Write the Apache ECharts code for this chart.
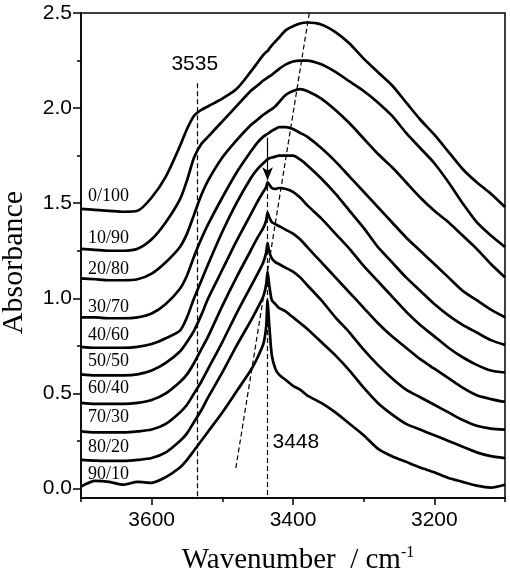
<!DOCTYPE html>
<html><head><meta charset="utf-8">
<script src="https://cdn.jsdelivr.net/npm/echarts@6/dist/echarts.min.js"></script>
<style>html,body{margin:0;padding:0;background:#fff}#c{width:510px;height:585px}</style>
</head><body><div id="c"></div>
<script>
// ---- data ----
const wavenumbers = [3700,3680,3660,3640,3620,3600,3580,3560,3550,3540,3530,3520,3500,3480,3460,3450,3442,3438,3436,3434,3430,3425,3420,3410,3400,3390,3380,3360,3340,3320,3300,3280,3260,3240,3220,3200,3180,3160,3140,3120,3100];
const seriesNames = ['0/100','10/90','20/80','30/70','40/60','50/50','60/40','70/30','80/20','90/10'];
const a0_100 = [1.47,1.465,1.46,1.455,1.46,1.53,1.64,1.80,1.89,1.96,1.99,2.01,2.05,2.10,2.19,2.24,2.28,2.295,2.30,2.31,2.33,2.35,2.37,2.41,2.43,2.445,2.45,2.44,2.40,2.34,2.26,2.19,2.12,2.03,1.94,1.86,1.77,1.68,1.61,1.55,1.48];
const a10_90 = [1.26,1.255,1.25,1.25,1.26,1.31,1.40,1.52,1.62,1.74,1.81,1.85,1.93,2.01,2.09,2.12,2.145,2.155,2.16,2.165,2.175,2.19,2.205,2.23,2.245,2.25,2.25,2.23,2.19,2.14,2.09,2.03,1.96,1.87,1.79,1.71,1.61,1.50,1.40,1.33,1.27];
const a20_80 = [1.105,1.10,1.095,1.095,1.10,1.13,1.19,1.27,1.34,1.44,1.54,1.62,1.74,1.83,1.91,1.94,1.965,1.975,1.98,1.985,1.995,2.01,2.03,2.07,2.09,2.10,2.09,2.05,1.99,1.92,1.84,1.76,1.69,1.61,1.53,1.46,1.40,1.33,1.26,1.18,1.11];
const a30_70 = [0.90,0.90,0.895,0.895,0.90,0.92,0.97,1.05,1.12,1.22,1.31,1.39,1.53,1.66,1.77,1.82,1.85,1.86,1.865,1.87,1.88,1.89,1.90,1.90,1.89,1.87,1.85,1.79,1.72,1.64,1.56,1.48,1.40,1.32,1.25,1.18,1.11,1.04,0.99,0.94,0.90];
const a40_60 = [0.745,0.74,0.74,0.74,0.745,0.76,0.79,0.83,0.90,1.00,1.09,1.18,1.35,1.50,1.63,1.68,1.71,1.725,1.73,1.735,1.74,1.745,1.75,1.75,1.75,1.73,1.70,1.63,1.55,1.46,1.37,1.27,1.19,1.11,1.04,0.97,0.91,0.86,0.82,0.78,0.755];
const a50_50 = [0.60,0.595,0.595,0.595,0.60,0.62,0.66,0.72,0.77,0.83,0.91,1.00,1.15,1.30,1.44,1.51,1.56,1.585,1.61,1.60,1.58,1.575,1.58,1.575,1.56,1.53,1.49,1.42,1.34,1.26,1.17,1.09,1.01,0.93,0.86,0.80,0.74,0.69,0.65,0.62,0.61];
const a60_40 = [0.45,0.445,0.445,0.445,0.45,0.465,0.50,0.56,0.60,0.66,0.73,0.80,0.96,1.11,1.25,1.32,1.37,1.41,1.45,1.43,1.40,1.39,1.38,1.36,1.34,1.31,1.27,1.19,1.11,1.03,0.95,0.87,0.80,0.74,0.68,0.63,0.58,0.53,0.49,0.47,0.455];
const a70_30 = [0.30,0.295,0.295,0.295,0.30,0.31,0.34,0.40,0.44,0.50,0.56,0.63,0.77,0.92,1.06,1.13,1.19,1.24,1.29,1.25,1.21,1.19,1.18,1.16,1.14,1.11,1.07,0.99,0.90,0.82,0.73,0.65,0.58,0.52,0.48,0.44,0.40,0.36,0.33,0.315,0.31];
const a80_20 = [0.15,0.147,0.145,0.145,0.15,0.16,0.19,0.25,0.29,0.35,0.41,0.48,0.61,0.75,0.88,0.95,1.01,1.07,1.14,1.08,0.99,0.97,0.95,0.93,0.90,0.87,0.84,0.77,0.70,0.62,0.53,0.45,0.39,0.34,0.31,0.28,0.25,0.22,0.19,0.17,0.16];
const a90_10 = [0.01,0.04,0.035,0.02,0.035,0.03,0.06,0.11,0.15,0.20,0.25,0.30,0.40,0.51,0.62,0.69,0.76,0.85,0.99,0.88,0.70,0.63,0.60,0.57,0.54,0.52,0.49,0.45,0.40,0.34,0.28,0.21,0.17,0.14,0.11,0.085,0.055,0.035,0.015,0.005,0.02];
const absorbance = [a0_100,a10_90,a20_80,a30_70,a40_60,a50_50,a60_40,a70_30,a80_20,a90_10];

const xTickValues = [3600,3400,3200];
const xMinorTickValues = [3700,3500,3300,3100];
const yTickValues = [0,0.5,1.0,1.5,2.0,2.5];
const yMinorTickValues = [0.25,0.75,1.25,1.75,2.25];

// annotation anchors (data coordinates)
const curveLabelX = 3690;
const curveLabelY = [1.534,1.313,1.155,0.955,0.808,0.671,0.526,0.376,0.218,0.076];
const legendTitle = ['PHB/PVPh', 3693, 1.808];
const peakLabels = [['3535', 3539, 2.229], ['3448', 3396, 0.245]];
const line3535 = [[3535, 2.13], [3535, -0.05]];
const line3448 = [[3436, 1.59], [3436, -0.05]];
const shiftLine = [[3377, 2.5], [3481, 0.105]];
const arrow3448 = [[3436, 1.845], [3436, 1.62]];

// ---- chart ----
const chart = echarts.init(document.getElementById('c'), null, {renderer: 'canvas'});
const sansFont = '"Liberation Sans", Arial, sans-serif';
const serifFont = '"Liberation Serif", "Times New Roman", serif';

const lineSeries = seriesNames.map((name, i) => ({
  name, type: 'line', xAxisIndex: 0, yAxisIndex: 0,
  data: wavenumbers.map((w, k) => [w, absorbance[i][k]]),
  showSymbol: false, symbol: 'none', smooth: 0.25,
  lineStyle: {color: '#000', width: 2.7}, silent: true, z: 3
}));

const dashed = {color: '#000', width: 1.2, type: [5, 3], opacity: 1};
lineSeries[0].markLine = {
  silent: true, symbol: ['none', 'none'], label: {show: false}, animation: false,
  lineStyle: dashed,
  data: [line3535, line3448, shiftLine].map(l => [{coord: l[0]}, {coord: l[1]}])
};
lineSeries[1].markLine = {
  silent: true, symbol: ['none', 'arrow'], symbolSize: [8, 13], label: {show: false}, animation: false,
  lineStyle: {color: '#000', width: 1.2, type: 'solid', opacity: 1},
  data: [[{coord: arrow3448[0]}, {coord: arrow3448[1]}]]
};

const labelSeries = {
  type: 'scatter', symbolSize: 0, silent: true, z: 5,
  itemStyle: {opacity: 1, color: '#000'},
  data: seriesNames.map((n, i) => [curveLabelX, curveLabelY[i], n]).concat([legendTitle]),
  label: {show: true, position: 'right', distance: 0, color: '#000', opacity: 1, textBorderWidth: 0,
    fontFamily: serifFont, fontSize: 18, formatter: p => p.value[2]}
};
const peakSeries = {
  type: 'scatter', symbolSize: 0, silent: true, z: 5,
  itemStyle: {opacity: 1, color: '#000'},
  data: peakLabels.map(p => ({value: [p[1], p[2]], name: p[0]})),
  label: {show: true, position: 'inside', color: '#000', opacity: 1, textBorderWidth: 0,
    fontFamily: sansFont, fontSize: 21, formatter: p => p.name}
};

const axisLineStyle = {color: '#000', width: 1.5};

chart.setOption({
  animation: false,
  backgroundColor: '#fff',
  grid: {left: 81, right: 5, top: 13, bottom: 87, show: true, borderColor: '#000', borderWidth: 1.5,
    backgroundColor: 'transparent', containLabel: false, outerBoundsMode: 'none'},
  xAxis: [{
    type: 'value', min: 3100, max: 3700, inverse: true, position: 'bottom',
    name: '{a|Wavenumber  / cm}{s|-1}', nameLocation: 'middle', nameGap: 47,
    nameTextStyle: {padding: [0, 0, 0, 10], rich: {
      a: {fontFamily: serifFont, fontSize: 29, color: '#000'},
      s: {fontFamily: serifFont, fontSize: 16, color: '#000', verticalAlign: 'top', padding: [0, 0, 14, 0]}
    }},
    axisLine: {show: true, onZero: false, lineStyle: axisLineStyle},
    axisTick: {show: true, inside: false, length: 7, lineStyle: axisLineStyle, customValues: xTickValues},
    axisLabel: {show: true, margin: 12, color: '#000', fontFamily: sansFont, fontSize: 21,
      customValues: xTickValues, formatter: v => String(v)},
    splitLine: {show: false}
  }, {
    type: 'value', min: 3100, max: 3700, inverse: true, position: 'bottom',
    axisLine: {show: false, onZero: false},
    axisTick: {show: true, inside: false, length: 4, lineStyle: axisLineStyle, customValues: xMinorTickValues},
    axisLabel: {show: false}, splitLine: {show: false}
  }],
  yAxis: [{
    type: 'value', min: -0.05, max: 2.5, position: 'left',
    name: 'Absorbance', nameLocation: 'middle', nameGap: 52, nameRotate: 90,
    nameTextStyle: {fontFamily: serifFont, fontSize: 30, color: '#000', padding: [0, 14, 0, 0]},
    axisLine: {show: true, onZero: false, lineStyle: axisLineStyle},
    axisTick: {show: true, inside: false, length: 8, lineStyle: axisLineStyle, customValues: yTickValues},
    axisLabel: {show: true, margin: 9, color: '#000', fontFamily: sansFont, fontSize: 21,
      customValues: yTickValues, formatter: v => v.toFixed(1)},
    splitLine: {show: false}
  }, {
    type: 'value', min: -0.05, max: 2.5, position: 'left',
    axisLine: {show: false, onZero: false},
    axisTick: {show: true, inside: false, length: 4, lineStyle: axisLineStyle, customValues: yMinorTickValues},
    axisLabel: {show: false}, splitLine: {show: false}
  }],
  series: lineSeries.concat([labelSeries, peakSeries])
});
</script>
</body></html>
